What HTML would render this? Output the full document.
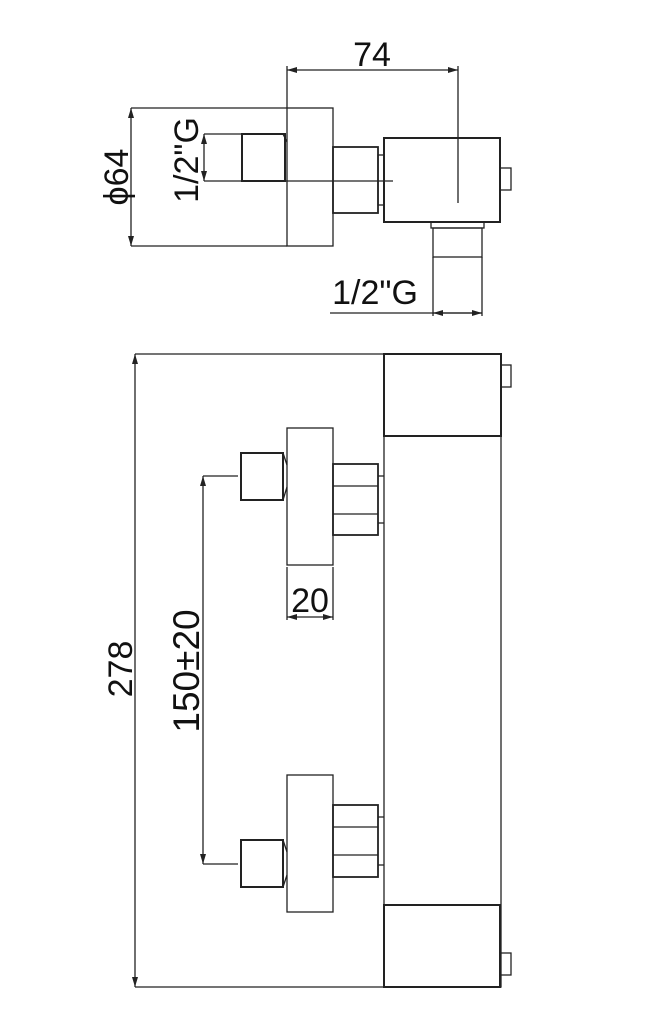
<!DOCTYPE html>
<html><head><meta charset="utf-8"><style>html,body{margin:0;padding:0;background:#fff}svg{display:block}</style></head>
<body>
<svg width="668" height="1024" viewBox="0 0 668 1024" xmlns="http://www.w3.org/2000/svg">
<defs>
<marker id="a" markerWidth="10" markerHeight="6" refX="10" refY="3" orient="auto-start-reverse" markerUnits="userSpaceOnUse"><path d="M0,0 L10,3 L0,6 z" fill="#222"/></marker>
</defs>
<g fill="none" stroke="#222" stroke-width="1.3">
<line x1="287" y1="70" x2="458" y2="70" marker-start="url(#a)" marker-end="url(#a)"/>
<line x1="287" y1="66" x2="287" y2="108"/>
<line x1="458" y1="66" x2="458" y2="203"/>
<line x1="131" y1="108" x2="287" y2="108"/>
<line x1="131" y1="246" x2="287" y2="246"/>
<line x1="131" y1="108" x2="131" y2="246" marker-start="url(#a)" marker-end="url(#a)"/>
<rect x="287" y="108" width="46" height="138"/>
<rect x="242" y="134" width="43" height="47" stroke-width="2"/>
<line x1="283" y1="134" x2="287" y2="142"/>
<line x1="204" y1="134" x2="242" y2="134"/>
<line x1="204" y1="181" x2="393" y2="181"/>
<line x1="204" y1="134" x2="204" y2="181" marker-start="url(#a)" marker-end="url(#a)"/>
<rect x="333" y="147" width="45" height="66" stroke-width="1.8"/>
<rect x="378" y="155" width="6" height="50"/>
<rect x="384" y="138" width="116" height="84" stroke-width="2"/>
<rect x="500" y="168" width="11" height="22"/>
<rect x="431" y="222" width="53" height="6"/>
<rect x="433" y="228" width="49" height="29"/>
<line x1="433" y1="257" x2="433" y2="316"/>
<line x1="482" y1="257" x2="482" y2="316"/>
<line x1="330" y1="313" x2="482" y2="313"/>
<line x1="433" y1="313" x2="482" y2="313" marker-start="url(#a)" marker-end="url(#a)"/>
<line x1="135" y1="354" x2="384" y2="354"/>
<line x1="135" y1="987" x2="384" y2="987"/>
<line x1="135" y1="354" x2="135" y2="987" marker-start="url(#a)" marker-end="url(#a)"/>
<rect x="384" y="354" width="117" height="633" stroke-width="1.3"/>
<rect x="384" y="354" width="117" height="82" stroke-width="2"/>
<rect x="384" y="905" width="116" height="82" stroke-width="2"/>
<rect x="501" y="365" width="10" height="22"/>
<rect x="500" y="953" width="11" height="22"/>
<rect x="287" y="428" width="46" height="137"/>
<rect x="241" y="453" width="42" height="47" stroke-width="2"/>
<line x1="283" y1="453" x2="287" y2="465"/><line x1="283" y1="500" x2="287" y2="487"/>
<rect x="333" y="464" width="45" height="71" stroke-width="1.8"/>
<line x1="333" y1="486" x2="378" y2="486"/><line x1="333" y1="514" x2="378" y2="514"/>
<line x1="378" y1="476" x2="384" y2="476"/><line x1="378" y1="523" x2="384" y2="523"/>
<rect x="287" y="775" width="46" height="137"/>
<rect x="241" y="840" width="42" height="47" stroke-width="2"/>
<line x1="283" y1="840" x2="287" y2="852"/><line x1="283" y1="887" x2="287" y2="875"/>
<rect x="333" y="805" width="45" height="72" stroke-width="1.8"/>
<line x1="333" y1="827" x2="378" y2="827"/><line x1="333" y1="855" x2="378" y2="855"/>
<line x1="378" y1="817" x2="384" y2="817"/><line x1="378" y1="865" x2="384" y2="865"/>
<line x1="203" y1="476" x2="238" y2="476"/>
<line x1="203" y1="864" x2="238" y2="864"/>
<line x1="203" y1="476" x2="203" y2="864" marker-start="url(#a)" marker-end="url(#a)"/>
<line x1="287" y1="567" x2="287" y2="620"/>
<line x1="333" y1="567" x2="333" y2="620"/>
<line x1="287" y1="617" x2="333" y2="617" marker-start="url(#a)" marker-end="url(#a)"/>
</g>
<g font-family="Liberation Sans, sans-serif" fill="#111" font-size="34">
<text x="372" y="66" text-anchor="middle">74</text>
<text x="375" y="304" text-anchor="middle">1/2"G</text>
<text x="310" y="612" text-anchor="middle">20</text>
<text transform="translate(128,177) rotate(-90)" text-anchor="middle">ϕ64</text>
<text transform="translate(198,160) rotate(-90)" text-anchor="middle">1/2"G</text>
<text transform="translate(132,669) rotate(-90)" text-anchor="middle">278</text>
<text transform="translate(199,671) rotate(-90)" text-anchor="middle" font-size="37">150±20</text>
</g>
</svg>
</body></html>
